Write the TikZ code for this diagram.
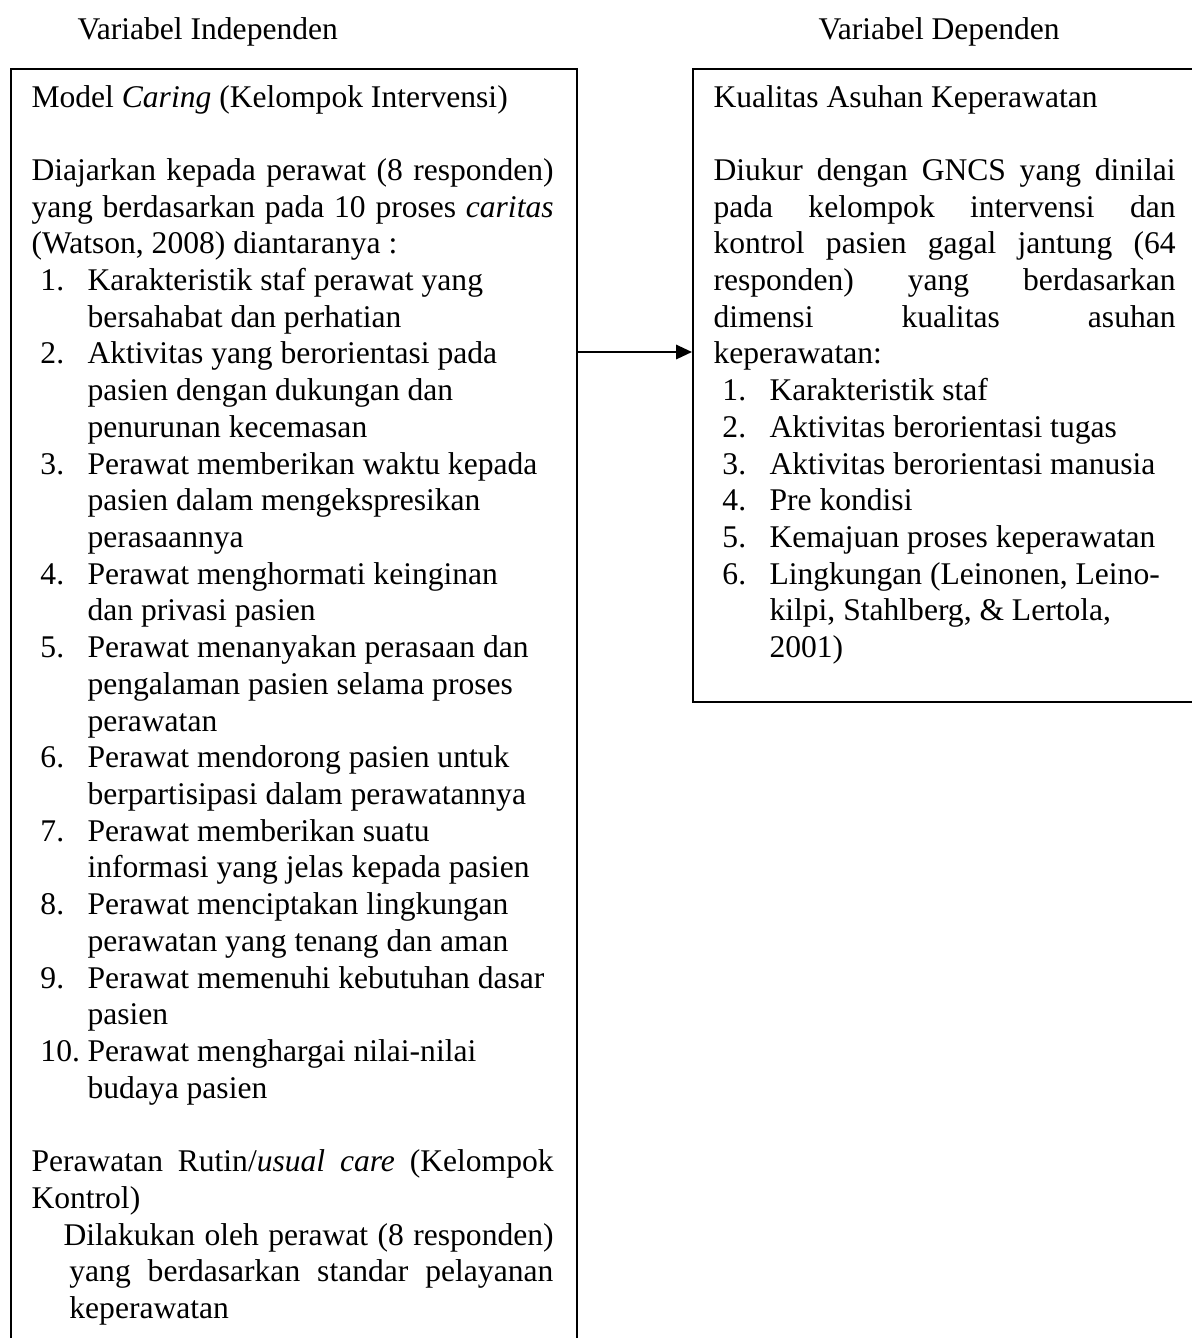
\documentclass[tikz,border=0pt]{standalone}
\usepackage{fontspec}
\setmainfont{Liberation Serif}
\usetikzlibrary{arrows.meta}

\newcommand{\jline}[2]{\makebox[#1][s]{#2}}
\newcommand{\listno}[1]{\hspace*{3.4pt}\makebox[17.9pt][l]{#1}}
\newcommand{\listgap}{\hspace*{21.3pt}}

\begin{document}
\begin{tikzpicture}[x=0.38pt,y=-0.38pt,
        box/.style={draw,line width=0.75pt,inner sep=0pt,anchor=north west},
        txt/.style={inner sep=0pt,anchor=base west,font=\fontsize{12}{13.95}\selectfont},
        arr/.style={-{Triangle[length=6pt,width=5.4pt]},line width=0.8pt}]

  \useasboundingbox (0,0) rectangle (1192,1338);
  \clip (0,0) rectangle (1192,1338);

  \node[txt] (hindep) at (77,39) {Variabel Independen};
  \node[txt] (hdep)   at (818,39) {Variabel Dependen};

  \node[box,minimum width=215.1pt,minimum height=490pt] (indep) at (10,68) {};
  \node[box,minimum width=193pt,minimum height=240.5pt] (dep) at (692,68) {};

  \node[txt] (indeptext) at (31,107) {\parbox[t]{230pt}{\fontsize{12}{13.95}\selectfont
    Model \textit{Caring} (Kelompok Intervensi)\\[13.95pt]
    \jline{198.4pt}{Diajarkan kepada perawat (8 responden)}\\
    \jline{198.4pt}{yang berdasarkan pada 10 proses \textit{caritas}}\\
    (Watson, 2008) diantaranya :\\
    \listno{1.}Karakteristik staf perawat yang\\
    \listgap bersahabat dan perhatian\\
    \listno{2.}Aktivitas yang berorientasi pada\\
    \listgap pasien dengan dukungan dan\\
    \listgap penurunan kecemasan\\
    \listno{3.}Perawat memberikan waktu kepada\\
    \listgap pasien dalam mengekspresikan\\
    \listgap perasaannya\\
    \listno{4.}Perawat menghormati keinginan\\
    \listgap dan privasi pasien\\
    \listno{5.}Perawat menanyakan perasaan dan\\
    \listgap pengalaman pasien selama proses\\
    \listgap perawatan\\
    \listno{6.}Perawat mendorong pasien untuk\\
    \listgap berpartisipasi dalam perawatannya\\
    \listno{7.}Perawat memberikan suatu\\
    \listgap informasi yang jelas kepada pasien\\
    \listno{8.}Perawat menciptakan lingkungan\\
    \listgap perawatan yang tenang dan aman\\
    \listno{9.}Perawat memenuhi kebutuhan dasar\\
    \listgap pasien\\
    \listno{10.}Perawat menghargai nilai-nilai\\
    \listgap budaya pasien\\[13.95pt]
    \jline{198.4pt}{Perawatan Rutin/\textit{usual care} (Kelompok}\\
    Kontrol)\\
    \hspace*{12.2pt}\jline{186.2pt}{Dilakukan oleh perawat (8 responden)}\\
    \hspace*{14.4pt}\jline{183.9pt}{yang berdasarkan standar pelayanan}\\
    \hspace*{14.4pt}keperawatan}};

  \node[txt] (deptext) at (713,107) {\parbox[t]{200pt}{\fontsize{12}{13.95}\selectfont
    Kualitas Asuhan Keperawatan\\[13.95pt]
    \jline{175.6pt}{Diukur dengan GNCS yang dinilai}\\
    \jline{175.6pt}{pada kelompok intervensi dan}\\
    \jline{175.6pt}{kontrol pasien gagal jantung (64}\\
    \jline{175.6pt}{responden) yang berdasarkan}\\
    \jline{175.6pt}{dimensi kualitas asuhan}\\
    keperawatan:\\
    \listno{1.}Karakteristik staf\\
    \listno{2.}Aktivitas berorientasi tugas\\
    \listno{3.}Aktivitas berorientasi manusia\\
    \listno{4.}Pre kondisi\\
    \listno{5.}Kemajuan proses keperawatan\\
    \listno{6.}Lingkungan (Leinonen, Leino-\\
    \listgap kilpi, Stahlberg, \& Lertola,\\
    \listgap 2001)}};

  \coordinate (lvl) at (0,352);
  \draw[arr] (indep.east |- lvl) -- (dep.west |- lvl);
\end{tikzpicture}
\end{document}
